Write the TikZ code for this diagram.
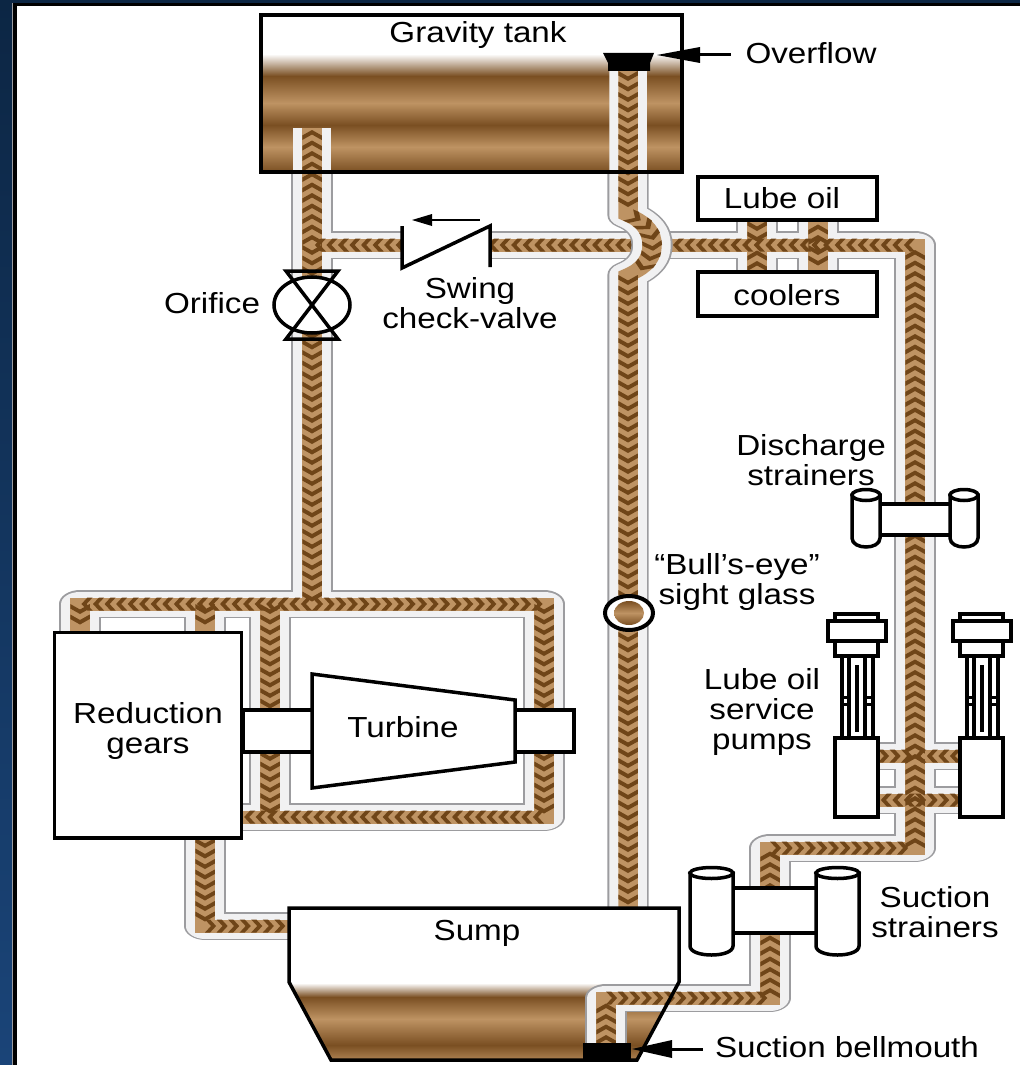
\documentclass[tikz,border=0pt]{standalone}
\usepackage{fontspec}
\setmainfont[FakeStretch=1.145]{Liberation Sans}
\usetikzlibrary{decorations.markings}
\definecolor{oildark}{HTML}{6F4518}
\definecolor{oiltan}{HTML}{BE9363}
\definecolor{banddark}{HTML}{7A4F22}
\definecolor{pipeedge}{HTML}{9C9C9F}
\definecolor{pipefill}{HTML}{F1F1F2}
\definecolor{navy}{HTML}{0C2644}
\definecolor{navyb}{HTML}{1A4478}
\tikzset{
  pipeshell/.style={draw=pipeedge,line width=27.5pt,line join=round},
  pipelight/.style={draw=pipefill,line width=25pt,line join=round},
  pipecore/.style={draw=oiltan,line width=13pt,line join=miter},
  flowV/.style={postaction={decorate,decoration={markings,
    mark=between positions 0 and -10pt step 10.5pt with {\fill[oildark] (0pt,-6.5pt)--(4.5pt,-6.5pt)--(10pt,0pt)--(4.5pt,6.5pt)--(0pt,6.5pt)--(5.5pt,0pt)--cycle;}}}},
  flowH/.style={postaction={decorate,decoration={markings,
    mark=between positions 0 and -7.4pt step 7.7pt with {\fill[oildark] (0pt,-6.5pt)--(3.4pt,-6.5pt)--(7.4pt,0pt)--(3.4pt,6.5pt)--(0pt,6.5pt)--(4pt,0pt)--cycle;}}}},
  outline/.style={draw=black,line width=3.5pt,line join=miter},
  blockbox/.style={draw=black,fill=white,line width=3.5pt},
  lbl/.style={font=\fontsize{29}{30}\selectfont,align=center,text=black,inner sep=0pt},
}
\newcommand{\cylinder}[4]{% x1 x2 ytop ybottom
  \pgfmathsetmacro{\cxm}{(#1+#2)/2}\pgfmathsetmacro{\crx}{(#2-#1)/2}
  \pgfmathsetmacro{\cyt}{#3+6}\pgfmathsetmacro{\cyb}{#4-9}\pgfmathsetmacro{\cyc}{#4+3}
  \draw[blockbox] (#1,\cyt) -- (#1,\cyb) .. controls (#1,\cyc) and (#2,\cyc) .. (#2,\cyb) -- (#2,\cyt) -- cycle;
  \draw[blockbox] (\cxm,\cyt) ellipse [x radius=\crx pt,y radius=5.5pt];
}
\newcommand{\pumpunit}{%
  \foreach \rx in {842,849,865,873}{\draw[black,line width=3.8pt] (\rx,656) -- (\rx,738);}
  \draw[black,line width=4.5pt] (857,665) -- (857,732);
  \draw[black,line width=3pt] (842,697) -- (849,697) (842,704) -- (849,704) (865,697) -- (873,697) (865,704) -- (873,704);
  \draw[blockbox] (835,614) rectangle (878,624);
  \draw[blockbox] (835,641) rectangle (878,656);
  \draw[blockbox] (828,621) rectangle (886,641);
  \draw[blockbox] (835,738) rectangle (878,817);
}
\begin{document}
\begin{tikzpicture}[x=1pt,y=-1pt]
\useasboundingbox (0,0) rectangle (1020,1065);
\fill[white] (0,0) rectangle (1020,1065);
% frame
\shade[top color=navy,bottom color=navyb] (0,0) rectangle (12.5,1065);
\fill[navy] (0,0) rectangle (1020,3);
\fill[black] (13,3) rectangle (1020,6);
\fill[black] (13,3) rectangle (17,1065);
\fill[pipeedge] (12.4,3) rectangle (13,1065);
% tank body
\fill[white] (262,16) rectangle (681,172);
\shade[top color=white,bottom color=banddark] (262,54) rectangle (681,76);
\shade[top color=banddark,bottom color=oiltan] (262,76) rectangle (681,103);
\shade[top color=oiltan,bottom color=banddark] (262,103) rectangle (681,125);
\shade[top color=banddark,bottom color=oiltan] (262,125) rectangle (681,147);
\shade[top color=oiltan,bottom color=banddark] (262,147) rectangle (681,172);
% sump body
\begin{scope}
  \clip (289,908) -- (679,908) -- (679,982) -- (637,1060) -- (331,1060) -- (289,982) -- cycle;
  \fill[white] (280,900) rectangle (690,1065);
  \shade[top color=white,bottom color=banddark] (280,983) rectangle (690,997);
  \shade[top color=banddark,bottom color=oiltan] (280,997) rectangle (690,1019);
  \shade[top color=oiltan,bottom color=banddark] (280,1019) rectangle (690,1045);
  \shade[top color=banddark,bottom color=oiltan] (280,1045) rectangle (690,1065);
\end{scope}
% pipes: the network is stretched 1.5 times across, as in the picture
\begin{scope}[x=0.66667pt,y=-1pt,transform canvas={xscale=1.5}]
  \coordinate (tankLa) at (312,128);
  \coordinate (tankLb) at (312,172);
  \coordinate (jSwing) at (312,245);
  \coordinate (jTop) at (312,604);
  \coordinate (rCorner) at (915,245);
  \coordinate (rBottom) at (915,848);
  \coordinate (sTop) at (770,848);
  \coordinate (sMid) at (770,998);
  \coordinate (bMid) at (606,998);
  \coordinate (bEnd) at (606,1045);
  \coordinate (tlCorner) at (80,604);
  \coordinate (trCorner) at (544,604);
  \coordinate (brCorner) at (544,817);
  \coordinate (gearSide) at (243,817);
  \coordinate (lEnd) at (80,632);
  \coordinate (gTop) at (205,604);
  \coordinate (gTopEnd) at (205,632);
  \coordinate (mTop) at (270,604);
  \coordinate (mBot) at (270,817);
  \coordinate (gBot) at (205,838);
  \coordinate (gCorner) at (205,926);
  \coordinate (sumpIn) at (290,926);
  \coordinate (coA) at (757,221);
  \coordinate (coAm) at (757,245);
  \coordinate (coAb) at (757,271);
  \coordinate (coB) at (818,221);
  \coordinate (coBm) at (818,245);
  \coordinate (coBb) at (818,271);
  \coordinate (pLa) at (878,756);
  \coordinate (pRa) at (961,756);
  \coordinate (pMa) at (915,756);
  \coordinate (pLb) at (878,800);
  \coordinate (pRb) at (961,800);
  \coordinate (pMb) at (915,800);
  \coordinate (cTop) at (628,71);
  \coordinate (cTank) at (628,172);
  \coordinate (hA) at (628,215);
  \coordinate (hB) at (628,275);
  \coordinate (cEnd) at (628,908);
  \def\network{
    (tankLb) -- (jTop)
    (jSwing) -- (rCorner) -- (rBottom) -- (sTop) -- (sMid) -- (bMid) -- (bEnd)
    (lEnd) -- (tlCorner) -- (trCorner) -- (brCorner) -- (gearSide)
    (gTop) -- (gTopEnd) (mTop) -- (mBot)
    (gBot) -- (gCorner) -- (sumpIn)
    (coA) -- (coAb) (coB) -- (coBb)
    (pLa) -- (pRa) (pLb) -- (pRb)}
  \draw[pipeshell] \network;
  \draw[pipelight] (tankLa) -- (tankLb);
  \draw[pipelight] \network;
  \draw[pipecore] (tankLa) -- (tankLb);
  \draw[pipecore] \network;
  % horizontal flows
  \path[flowH] (rCorner) -- (jSwing);
  \path[flowH] (jTop) -- (tlCorner);
  \path[flowH] (jTop) -- (trCorner);
  \path[flowH] (brCorner) -- (gearSide);
  \path[flowH] (gCorner) -- (sumpIn);
  \path[flowH] (bMid) -- (sMid);
  \path[flowH] (sTop) -- (rBottom);
  \path[flowH] (pLa) -- (pMa);
  \path[flowH] (pRa) -- (pMa);
  \path[flowH] (pMb) -- (pLb);
  \path[flowH] (pMb) -- (pRb);
  % vertical flows
  \path[flowV] (jSwing) -- (tankLa);
  \path[flowV] (jSwing) -- (jTop);
  \path[flowV] (rBottom) -- (rCorner);
  \path[flowV] (sMid) -- (sTop);
  \path[flowV] (bEnd) -- (bMid);
  \path[flowV] (tlCorner) -- (lEnd);
  \path[flowV] (gTop) -- (gTopEnd);
  \path[flowV] (mTop) -- (mBot);
  \path[flowV] (trCorner) -- (brCorner);
  \path[flowV] (gBot) -- (gCorner);
  \path[flowV] (coA) -- (coAm);
  \path[flowV] (coAb) -- (coAm);
  \path[flowV] (coBm) -- (coB);
  \path[flowV] (coBm) -- (coBb);
  % central line with hump, over the crossing pipe
  \def\hump{(hA) .. controls (645,222) and (652,232) .. (652,245) .. controls (652,258) and (645,268) .. (hB)}
  \draw[pipeshell] (cTank) -- \hump -- (cEnd);
  \draw[pipelight] (cTop) -- \hump -- (cEnd);
  \draw[pipecore] (cTop) -- \hump -- (cEnd);
  \path[flowV] (cTop) -- (hA);
  \path[flowV] \hump;
  \path[flowV] (hB) -- (cEnd);
\end{scope}
% tank and sump outlines, overflow, bellmouth
\draw[outline] (261,15) rectangle (682,172);
\draw[outline] (289,908) -- (679,908) -- (679,982) -- (637,1060) -- (331,1060) -- (289,982) -- cycle;
\fill[black] (603,53) -- (654,53) -- (650,63) -- (650,71) -- (608,71) -- (608,63) -- cycle;
\fill[black] (583,1043) rectangle (631,1060);
% arrows
\coordinate (ovTip) at (657,55);
\coordinate (ovTail) at (731,55);
\coordinate (beTip) at (632,1049);
\coordinate (beTail) at (703,1049);
\fill[black] (ovTip) -- (700,47) -- (700,63) -- cycle;
\draw[black,line width=3pt] (700,55) -- (ovTail);
\fill[black] (beTip) -- (672,1040) -- (672,1058) -- cycle;
\draw[black,line width=3pt] (672,1049) -- (beTail);
% swing check valve
\fill[white] (403,225) rectangle (489,267);
\draw[black,line width=3.5pt,line join=miter] (402,226) -- (402,268) -- (490,226) -- (490,267);
\fill[black] (412,220) -- (432,214) -- (432,226) -- cycle;
\draw[black,line width=2.5pt] (430,220) -- (480,220);
% orifice
\draw[blockbox] (312,305) ellipse [x radius=38pt,y radius=28pt];
\draw[black,line width=3.5pt,line join=miter] (312,305) -- (286,271) -- (338,271) -- (286,339) -- (338,339) -- cycle;
% sight glass
\draw[black,fill=white,line width=4pt] (629,613) ellipse [x radius=24pt,y radius=17pt];
\shade[top color=banddark,bottom color=banddark,middle color=oiltan] (629,613) ellipse [x radius=15pt,y radius=12pt];
% lube oil coolers
\draw[blockbox] (698,177) rectangle (877,220);
\draw[blockbox] (698,272) rectangle (877,316);
% discharge strainers
\draw[blockbox] (878,504) rectangle (951,535);
\cylinder{852}{880}{489}{547}
\cylinder{950}{978}{489}{547}
% pumps
\pumpunit
\begin{scope}[xshift=125pt]
  \pumpunit
\end{scope}
% suction strainers
\draw[blockbox] (731,888) rectangle (818,933);
\cylinder{690}{733}{867}{955}
\cylinder{816}{859}{867}{955}
% gears and turbine
\draw[blockbox] (243,710) rectangle (313,752);
\draw[blockbox] (514,710) rectangle (574,752);
\draw[blockbox] (312,674) -- (515,700) -- (515,762) -- (312,788) -- cycle;
\draw[blockbox] (54.5,632.5) rectangle (241.5,838);
% labels
\node[lbl] (tGravity) at (478,35) {Gravity tank};
\node[lbl] (tOverflow) at (811,53) {Overflow};
\node[lbl] (tLube) at (782,198) {Lube oil};
\node[lbl] (tCoolers) at (787,295) {coolers};
\node[lbl] (tSwing) at (470,303) {Swing\\check-valve};
\node[lbl] (tOrifice) at (212,303) {Orifice};
\node[lbl] (tDischarge) at (811,460) {Discharge\\strainers};
\node[lbl] (tBull) at (737,582) {“Bull’s-eye”\\sight glass};
\node[lbl] (tPumps) at (762,712) {Lube oil\\service\\pumps};
\node[lbl] (tGears) at (148,731) {Reduction\\gears};
\node[lbl] (tTurbine) at (403,727) {Turbine};
\node[lbl] (tSump) at (477,933) {Sump};
\node[lbl] (tSuction) at (935,912) {Suction\\strainers};
\node[lbl] (tBell) at (847,1047) {Suction bellmouth};
\end{tikzpicture}
\end{document}
